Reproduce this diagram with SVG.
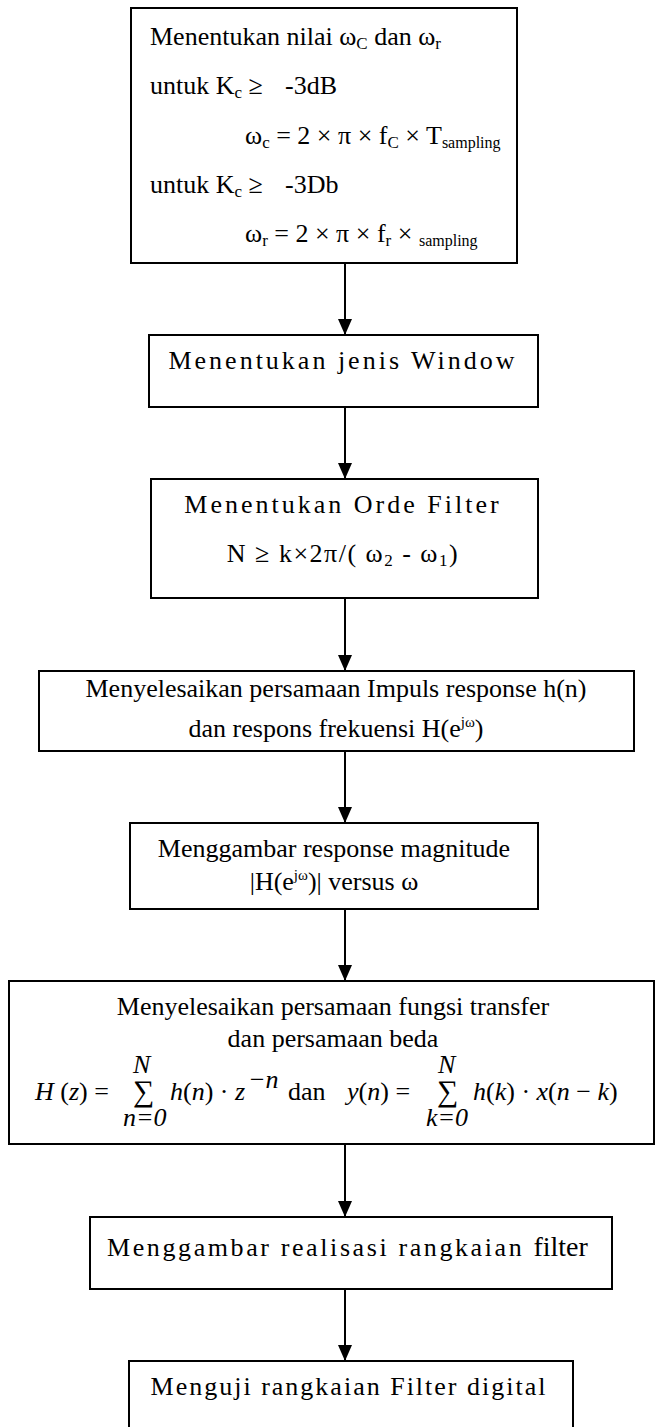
<svg xmlns="http://www.w3.org/2000/svg" width="656" height="1427" viewBox="0 0 656 1427">
<style>
.box{fill:#fff;stroke:#000;stroke-width:2}
.t{font-family:"Liberation Serif","Times New Roman",serif;font-size:26px;fill:#000}
.sp{letter-spacing:3px}
.c{text-anchor:middle}
.i{font-style:italic}
.sum{font-family:"Liberation Serif","Times New Roman",serif;font-size:30px;fill:#000}
.conn{stroke:#000;stroke-width:2;fill:none}
</style>
<defs>
<marker id="ah" viewBox="0 0 16 14" refX="16" refY="7" markerWidth="16" markerHeight="14" markerUnits="userSpaceOnUse" orient="auto">
<path d="M0,0 L16,7 L0,14 z" fill="#000"/>
</marker>
</defs>
<rect width="656" height="1427" fill="#fff"/>
<g id="connectors">
<line class="conn" x1="345" y1="263" x2="345" y2="335" marker-end="url(#ah)"/>
<line class="conn" x1="345" y1="407" x2="345" y2="479" marker-end="url(#ah)"/>
<line class="conn" x1="345" y1="598" x2="345" y2="671" marker-end="url(#ah)"/>
<line class="conn" x1="345" y1="751" x2="345" y2="823" marker-end="url(#ah)"/>
<line class="conn" x1="345" y1="909" x2="345" y2="981" marker-end="url(#ah)"/>
<line class="conn" x1="345" y1="1144" x2="345" y2="1217" marker-end="url(#ah)"/>
<line class="conn" x1="345" y1="1289" x2="345" y2="1361" marker-end="url(#ah)"/>
</g>
<g id="node1">
<rect class="box" x="131" y="8" width="386" height="255"/>
<text class="t" x="150" y="45">Menentukan nilai ω<tspan font-size="17" dy="4">C</tspan><tspan dy="-4"> dan ω</tspan><tspan font-size="17" dy="4">r</tspan></text>
<text class="t" x="150" y="94">untuk K<tspan font-size="17" dy="4">c</tspan><tspan dy="-4"> ≥</tspan></text>
<text class="t" x="285" y="94">-3dB</text>
<text class="t" x="245" y="144">ω<tspan font-size="17" dy="4">c</tspan><tspan dy="-4"> = 2 × π × f</tspan><tspan font-size="17" dy="4">C</tspan><tspan dy="-4"> × T</tspan><tspan font-size="16" dy="4">sampling</tspan></text>
<text class="t" x="150" y="193">untuk K<tspan font-size="17" dy="4">c</tspan><tspan dy="-4"> ≥</tspan></text>
<text class="t" x="285" y="193">-3Db</text>
<text class="t" x="245" y="242">ω<tspan font-size="17" dy="4">r</tspan><tspan dy="-4"> = 2 × π × f</tspan><tspan font-size="17" dy="4">r</tspan><tspan dy="-4"> × </tspan><tspan font-size="16" dy="4">sampling</tspan></text>
</g>
<g id="node2">
<rect class="box" x="149" y="335" width="389" height="72"/>
<text class="t sp c" x="343" y="369">Menentukan jenis Window</text>
</g>
<g id="node3">
<rect class="box" x="151" y="479" width="387" height="119"/>
<text class="t sp c" x="343" y="513">Menentukan Orde Filter</text>
<text class="t c" x="343" y="562" letter-spacing="1.5">N ≥ k×2π/( ω<tspan font-size="17" dy="4">2</tspan><tspan dy="-4"> - ω</tspan><tspan font-size="17" dy="4">1</tspan><tspan dy="-4">)</tspan></text>
</g>
<g id="node4">
<rect class="box" x="39" y="671" width="595" height="80"/>
<text class="t c" x="336" y="697">Menyelesaikan persamaan Impuls response h(n)</text>
<text class="t c" x="336" y="737">dan respons frekuensi H(e<tspan font-size="15" dy="-10">jω</tspan><tspan dy="10">)</tspan></text>
</g>
<g id="node5">
<rect class="box" x="130" y="823" width="408" height="86"/>
<text class="t c" x="334" y="857">Menggambar response magnitude</text>
<text class="t c" x="334" y="890">|H(e<tspan font-size="15" dy="-10">jω</tspan><tspan dy="10">)| versus ω</tspan></text>
</g>
<g id="node6">
<rect class="box" x="9" y="981" width="645" height="163"/>
<text class="t c" x="333" y="1015">Menyelesaikan persamaan fungsi transfer</text>
<text class="t c" x="333" y="1047">dan persamaan beda</text>
<text class="t" x="35" y="1100"><tspan class="i">H</tspan> (<tspan class="i">z</tspan>) =</text>
<text class="t i" x="133" y="1073">N</text>
<text class="sum" x="133" y="1101">∑</text>
<text class="t i" x="123" y="1126">n=0</text>
<text class="t" x="170" y="1100"><tspan class="i">h</tspan>(<tspan class="i">n</tspan>) · <tspan class="i">z</tspan></text>
<text class="t i" x="248" y="1088">−n</text>
<text class="t" x="288" y="1100">dan</text>
<text class="t" x="347" y="1100"><tspan class="i">y</tspan>(<tspan class="i">n</tspan>) =</text>
<text class="t i" x="438" y="1073">N</text>
<text class="sum" x="437" y="1101">∑</text>
<text class="t i" x="426" y="1126">k=0</text>
<text class="t" x="473" y="1100"><tspan class="i">h</tspan>(<tspan class="i">k</tspan>) · <tspan class="i">x</tspan>(<tspan class="i">n</tspan> − <tspan class="i">k</tspan>)</text>
</g>
<g id="node7">
<rect class="box" x="90" y="1217" width="522" height="72"/>
<text class="t" x="107" y="1256"><tspan letter-spacing="2.6">Menggambar realisasi rangkaian </tspan><tspan font-size="28">filter</tspan></text>
</g>
<g id="node8">
<rect class="box" x="129" y="1361" width="444" height="90"/>
<text class="t c" x="349" y="1395" letter-spacing="2">Menguji rangkaian Filter digital</text>
</g>
</svg>
